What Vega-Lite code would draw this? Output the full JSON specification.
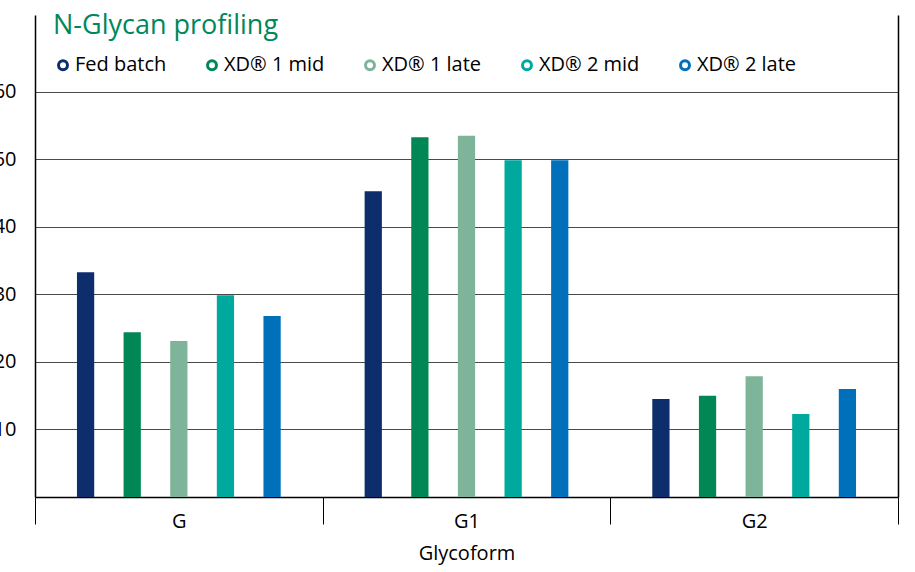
{
  "$schema": "https://vega.github.io/schema/vega-lite/v6.json",
  "autosize": "none",
  "width": 863,
  "height": 482,
  "padding": {"left": 35, "top": 15, "right": 17, "bottom": 75},
  "background": "white",
  "config": {
    "view": {"stroke": null},
    "font": "Open Sans",
    "axis": {"labelFont": "Open Sans", "titleFont": "Open Sans", "labelColor": "black", "titleColor": "black"},
    "legend": {"labelFont": "Open Sans", "titleFont": "Open Sans"}
  },
  "data": {
    "values": [
      {"glycoform": "G", "series": "Fed batch", "value": 33.3},
      {"glycoform": "G", "series": "XD® 1 mid", "value": 24.4},
      {"glycoform": "G", "series": "XD® 1 late", "value": 23.1},
      {"glycoform": "G", "series": "XD® 2 mid", "value": 29.9},
      {"glycoform": "G", "series": "XD® 2 late", "value": 26.8},
      {"glycoform": "G1", "series": "Fed batch", "value": 45.3},
      {"glycoform": "G1", "series": "XD® 1 mid", "value": 53.3},
      {"glycoform": "G1", "series": "XD® 1 late", "value": 53.5},
      {"glycoform": "G1", "series": "XD® 2 mid", "value": 49.9},
      {"glycoform": "G1", "series": "XD® 2 late", "value": 49.9},
      {"glycoform": "G2", "series": "Fed batch", "value": 14.5},
      {"glycoform": "G2", "series": "XD® 1 mid", "value": 15.0},
      {"glycoform": "G2", "series": "XD® 1 late", "value": 17.9},
      {"glycoform": "G2", "series": "XD® 2 mid", "value": 12.3},
      {"glycoform": "G2", "series": "XD® 2 late", "value": 16.0}
    ]
  },
  "encoding": {
    "x": {
      "field": "glycoform",
      "type": "nominal",
      "sort": ["G", "G1", "G2"],
      "scale": {"paddingInner": 0, "paddingOuter": 0},
      "axis": {
        "title": "Glycoform",
        "titleFontSize": 20,
        "titleFontWeight": "normal",
        "titlePadding": 12,
        "labelFontSize": 20,
        "labelAngle": 0,
        "tickBand": "extent",
        "tickSize": 27,
        "tickColor": "black",
        "tickWidth": 1,
        "labelPadding": -13,
        "domainColor": "black",
        "domainWidth": 1.5,
        "grid": false
      }
    },
    "xOffset": {
      "field": "series",
      "type": "nominal",
      "sort": ["Fed batch", "XD® 1 mid", "XD® 1 late", "XD® 2 mid", "XD® 2 late"],
      "scale": {"paddingInner": 0.63, "paddingOuter": 0.9}
    }
  },
  "layer": [
    {
      "transform": [{"filter": "false"}],
      "mark": {"type": "point", "filled": false, "shape": "circle", "strokeWidth": 3, "opacity": 1},
      "encoding": {
        "stroke": {
          "field": "series",
          "type": "nominal",
          "scale": {
            "domain": ["Fed batch", "XD® 1 mid", "XD® 1 late", "XD® 2 mid", "XD® 2 late"],
            "range": ["#0e2d6c", "#008755", "#7db49a", "#00a99e", "#0070bb"]
          },
          "legend": {
            "title": "N-Glycan profiling",
            "titleColor": "#00875a",
            "titleFontSize": 27,
            "titleFontWeight": "normal",
            "titleLimit": 500,
            "titlePadding": 15,
            "labelFontSize": 20,
            "labelColor": "black",
            "labelLimit": 300,
            "orient": "none",
            "legendX": 18,
            "legendY": -2,
            "direction": "horizontal",
            "columnPadding": 34,
            "padding": 0,
            "symbolType": "circle",
            "symbolSize": 80,
            "symbolStrokeWidth": 3,
            "symbolOpacity": 1,
            "labelOffset": 2
          }
        }
      }
    },
    {
      "mark": {"type": "bar"},
      "encoding": {
        "color": {
          "field": "series",
          "type": "nominal",
          "sort": ["Fed batch", "XD® 1 mid", "XD® 1 late", "XD® 2 mid", "XD® 2 late"],
          "scale": {"range": ["#0e2d6c", "#008755", "#7db49a", "#00a99e", "#0070bb"]},
          "legend": null
        },
        "y": {
          "field": "value",
          "type": "quantitative",
          "scale": {"domain": [0, 71.4], "nice": false},
          "axis": {
            "title": null,
            "values": [10, 20, 30, 40, 50, 60],
            "labelFontSize": 20,
            "labelPadding": 19,
            "ticks": false,
            "grid": true,
            "gridColor": "#4a4a4a",
            "gridWidth": 1.2,
            "domainColor": "black",
            "domainWidth": 1.5
          }
        }
      }
    },
    {
      "mark": {"type": "bar", "opacity": 0},
      "encoding": {
        "y": {
          "field": "value",
          "type": "quantitative",
          "scale": {"domain": [0, 71.4], "nice": false},
          "axis": {
            "orient": "right",
            "title": null,
            "labels": false,
            "ticks": false,
            "grid": false,
            "domainColor": "black",
            "domainWidth": 1.5
          }
        }
      }
    }
  ],
  "resolve": {"scale": {"y": "independent"}}
}
